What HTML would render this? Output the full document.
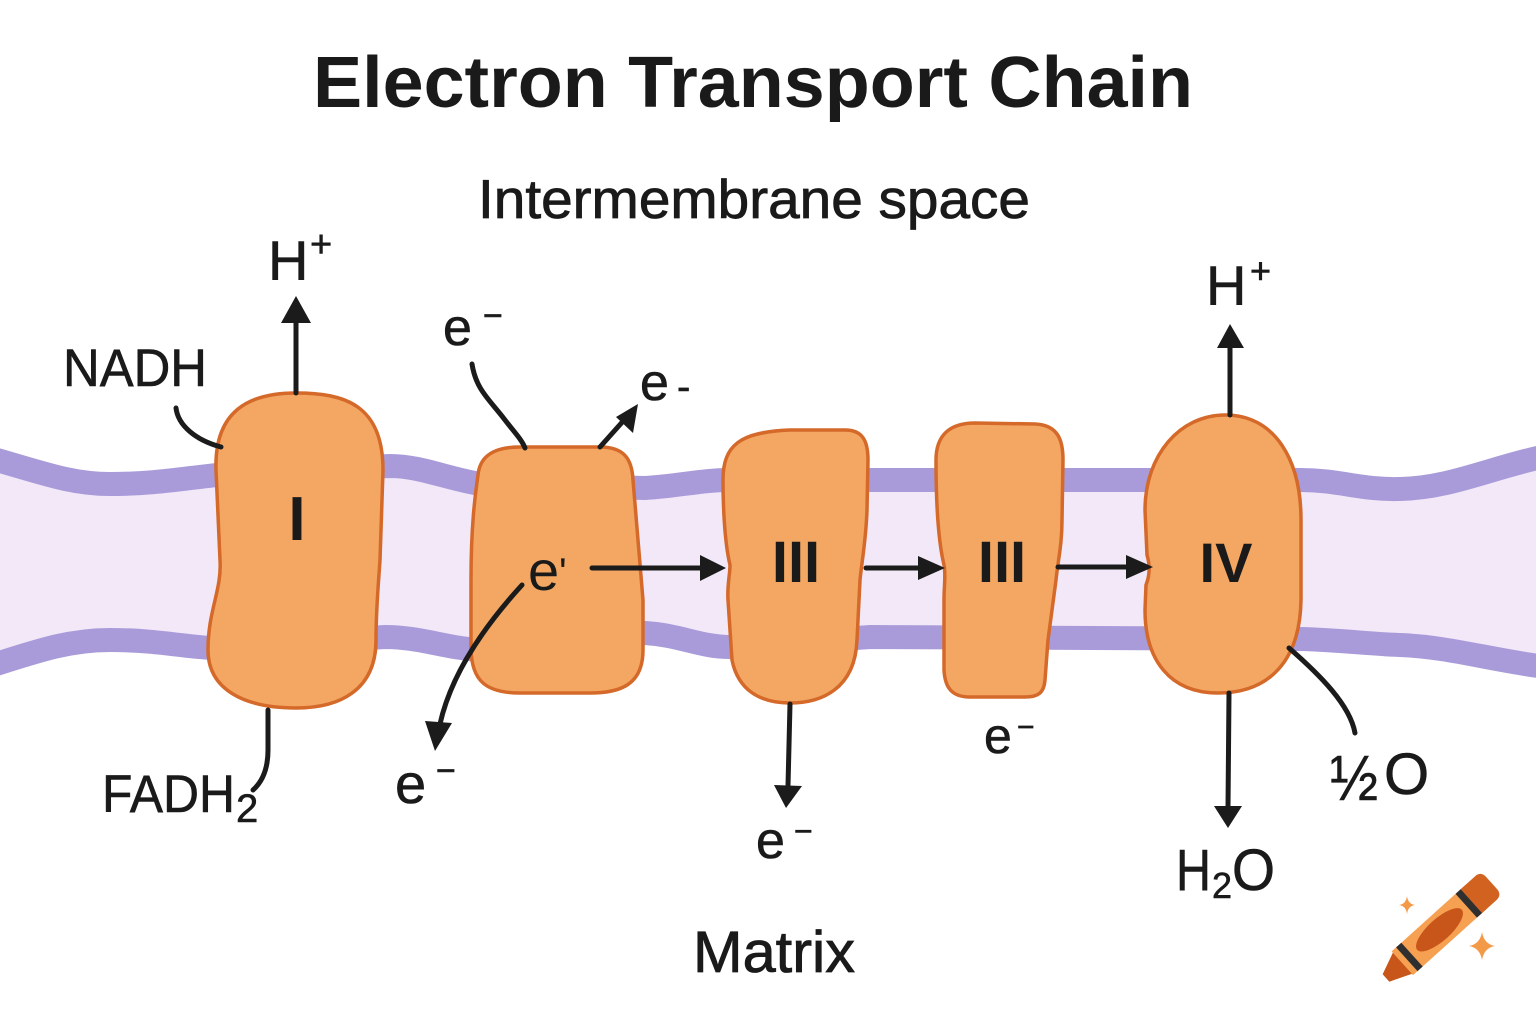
<!DOCTYPE html>
<html>
<head>
<meta charset="utf-8">
<style>
  html,body{margin:0;padding:0;background:#ffffff;}
  svg{display:block;}
  text{font-family:"Liberation Sans","DejaVu Sans",sans-serif;fill:#1a1a1a;}
</style>
</head>
<body>
<svg width="1536" height="1024" viewBox="0 0 1536 1024" xmlns="http://www.w3.org/2000/svg">
  <rect x="0" y="0" width="1536" height="1024" fill="#ffffff"/>

  <!-- Membrane interior -->
  <rect x="0" y="430" width="1536" height="260" fill="#F2E8F8"/>
  <path d="M -10 458 C 40 472, 70 484, 110 484 C 170 484, 200 474, 260 472 L 390 466 C 420 466, 445 478, 480 484 L 645 488 C 680 486, 700 480, 730 480 L 1300 480 C 1340 480, 1360 490, 1400 489 C 1450 488, 1490 468, 1546 456 L 1546 0 L -10 0 Z" fill="#ffffff"/>
  <path d="M -10 666 C 40 650, 70 640, 110 640 C 160 640, 190 648, 215 648 L 385 637 C 420 637, 445 648, 480 650 L 645 633 C 680 635, 700 647, 730 647 L 870 637 L 1300 639 C 1340 640, 1370 644, 1400 645 C 1450 647, 1490 660, 1546 667 L 1546 1024 L -10 1024 Z" fill="#ffffff"/>
  <path d="M -10 458 C 40 472, 70 484, 110 484 C 170 484, 200 474, 260 472 L 390 466 C 420 466, 445 478, 480 484 L 645 488 C 680 486, 700 480, 730 480 L 1300 480 C 1340 480, 1360 490, 1400 489 C 1450 488, 1490 468, 1546 456" fill="none" stroke="#A99BD9" stroke-width="24"/>
  <path d="M -10 666 C 40 650, 70 640, 110 640 C 160 640, 190 648, 215 648 L 385 637 C 420 637, 445 648, 480 650 L 645 633 C 680 635, 700 647, 730 647 L 870 637 L 1300 639 C 1340 640, 1370 644, 1400 645 C 1450 647, 1490 660, 1546 667" fill="none" stroke="#A99BD9" stroke-width="24"/>

  <!-- Proteins -->
  <g fill="#F3A762" stroke="#D4692A" stroke-width="3.5" stroke-linejoin="round">
    <path d="M 296 393 C 345 393, 383 405, 383 470 L 380 560 C 378 590, 376 610, 376 640 C 376 690, 340 708, 296 708 C 245 708, 208 690, 208 650 C 208 610, 222 590, 220 560 L 216 470 C 214 410, 250 393, 296 393 Z"/>
    <path d="M 520 447 L 600 447 C 625 447, 632 460, 633 480 L 643 600 L 643 650 C 643 685, 620 693, 590 693 L 520 693 C 485 693, 472 680, 471 650 L 471 580 C 471 520, 476 490, 478 475 C 480 455, 495 447, 520 447 Z"/>
    <path d="M 790 430 L 845 430 C 862 430, 868 440, 868 460 L 867 510 C 866 540, 862 560, 860 580 L 857 640 C 855 690, 820 703, 790 703 C 760 703, 738 690, 732 660 L 728 600 C 727 585, 730 575, 730 565 C 724 540, 723 500, 723 480 C 723 445, 740 432, 790 430 Z"/>
    <path d="M 975 423 L 1035 424 C 1058 425, 1063 440, 1063 460 L 1062 520 C 1062 545, 1058 560, 1056 580 L 1048 640 L 1045 680 C 1044 693, 1038 697, 1025 697 L 970 697 C 952 697, 945 688, 944 670 L 944 600 C 944 585, 946 575, 944 565 C 938 540, 936 500, 936 460 C 936 435, 950 423, 975 423 Z"/>
    <path d="M 1225 415 C 1275 415, 1301 460, 1301 520 L 1301 600 C 1300 660, 1270 693, 1218 693 C 1170 693, 1145 660, 1145 610 L 1146 585 C 1150 575, 1150 565, 1147 555 L 1145 510 C 1145 455, 1180 415, 1225 415 Z"/>
  </g>

  <!-- Protein labels -->
  <text x="297" y="540" font-size="62" font-weight="bold" text-anchor="middle">I</text>
  <text x="796" y="582" font-size="58" font-weight="bold" text-anchor="middle">III</text>
  <text x="1002" y="582" font-size="58" font-weight="bold" text-anchor="middle">III</text>
  <text x="1226" y="582" font-size="56" font-weight="bold" text-anchor="middle">IV</text>
  <text x="528" y="590" font-size="56">e</text>
  <text x="559" y="586" font-size="40">'</text>

  <!-- Connectors -->
  <g fill="none" stroke="#1b1b1b" stroke-width="5" stroke-linecap="round">
    <line x1="296" y1="393" x2="296" y2="320"/>
    <path d="M 176 408 C 178 425, 195 440, 221 447"/>
    <path d="M 268 710 L 268 750 C 268 770, 262 782, 253 790"/>
    <path d="M 472 364 C 476 390, 490 400, 505 420 C 515 433, 522 440, 525 448"/>
    <line x1="600" y1="447" x2="625" y2="419"/>
    <line x1="592" y1="568" x2="702" y2="568"/>
    <path d="M 522 585 C 490 620, 452 670, 440 724"/>
    <line x1="866" y1="568" x2="920" y2="568"/>
    <line x1="1058" y1="567" x2="1128" y2="567"/>
    <line x1="790" y1="704" x2="788" y2="786"/>
    <line x1="1230" y1="415" x2="1230" y2="345"/>
    <line x1="1229" y1="693" x2="1228" y2="808"/>
    <path d="M 1289 648 C 1320 675, 1350 705, 1355 733"/>
  </g>
  <g fill="#1b1b1b">
    <polygon points="296,296 281,323 311,323"/>
    <polygon points="638,404 616,417 633,433"/>
    <polygon points="726,568 700,555 700,581"/>
    <polygon points="945,568 918,556 918,580"/>
    <polygon points="1153,567 1126,555 1126,579"/>
    <polygon points="435,751 425,721 452,723"/>
    <polygon points="786,808 774,785 802,786"/>
    <polygon points="1230,324 1217,348 1244,348"/>
    <polygon points="1228,828 1214,806 1242,806"/>
  </g>

  <!-- Titles -->
  <text x="313" y="107" font-size="72" font-weight="bold" textLength="880" lengthAdjust="spacingAndGlyphs">Electron Transport Chain</text>
  <text x="478" y="218" font-size="55" textLength="552" lengthAdjust="spacingAndGlyphs" stroke="#1a1a1a" stroke-width="0.8">Intermembrane space</text>
  <text x="693" y="972" font-size="58" textLength="162" lengthAdjust="spacingAndGlyphs" stroke="#1a1a1a" stroke-width="0.8">Matrix</text>

  <!-- Labels -->
  <g stroke="#1a1a1a" stroke-width="0.6">
    <text x="268" y="280" font-size="56">H</text>
    <text x="310" y="257" font-size="38">+</text>
    <text x="63" y="386" font-size="53" textLength="144" lengthAdjust="spacingAndGlyphs">NADH</text>
    <text x="102" y="812" font-size="53" textLength="133" lengthAdjust="spacingAndGlyphs">FADH</text>
    <text x="236" y="822" font-size="40">2</text>

    <text x="443" y="345" font-size="52">e</text>
    <text x="483" y="327" font-size="34">−</text>

    <text x="640" y="400" font-size="52">e</text>
    <text x="677" y="400" font-size="40">-</text>

    <text x="395" y="803" font-size="56">e</text>
    <text x="436" y="782" font-size="34">−</text>

    <text x="756" y="858" font-size="52">e</text>
    <text x="794" y="842" font-size="32">−</text>

    <text x="984" y="753" font-size="50">e</text>
    <text x="1017" y="737" font-size="30">−</text>

    <text x="1206" y="305" font-size="56">H</text>
    <text x="1250" y="283" font-size="36">+</text>

    <text x="1176" y="890" font-size="58" textLength="35" lengthAdjust="spacingAndGlyphs">H</text>
    <text x="1212" y="898" font-size="36">2</text>
    <text x="1232" y="890" font-size="58" textLength="43" lengthAdjust="spacingAndGlyphs">O</text>

    <text x="1330" y="800" font-size="64" textLength="48" lengthAdjust="spacingAndGlyphs">½</text>
    <text x="1384" y="794" font-size="58">O</text>
  </g>

  <!-- Crayon icon -->
  <g transform="translate(1386,978) rotate(-42)">
    <polygon points="0,-5 0,5 24,15 24,-15" fill="#C8561A"/>
    <rect x="22" y="-16" width="100" height="32" fill="#F6A052"/>
    <rect x="28" y="-16" width="7" height="32" fill="#2f2f2f"/>
    <rect x="108" y="-16" width="7" height="32" fill="#2f2f2f"/>
    <path d="M 115 -16 L 134 -16 Q 142 -16 142 -8 L 142 8 Q 142 16 134 16 L 115 16 Z" fill="#D2621F"/>
    <ellipse cx="72" cy="0" rx="30" ry="11" fill="#C8561A"/>
  </g>
  <path d="M 1407 896 Q 1408 904 1415 905 Q 1408 906 1407 914 Q 1406 906 1399 905 Q 1406 904 1407 896 Z" fill="#F39A48"/>
  <path d="M 1482 932 Q 1484 944 1495 946 Q 1484 948 1482 960 Q 1480 948 1469 946 Q 1480 944 1482 932 Z" fill="#F39A48"/>
</svg>
</body>
</html>
